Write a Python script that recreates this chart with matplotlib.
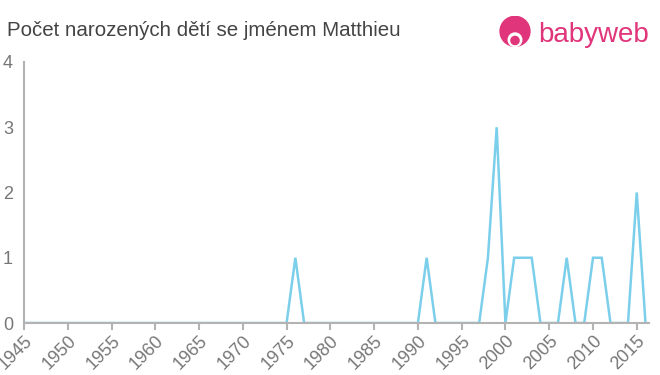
import matplotlib
matplotlib.use("Agg")
import matplotlib.pyplot as plt
from matplotlib.patches import Circle

plt.rcParams['font.family'] = ['Liberation Sans', 'DejaVu Sans']

years = list(range(1945, 2017))
nonzero = {1976: 1, 1991: 1, 1998: 1, 1999: 3, 2001: 1, 2002: 1, 2003: 1,
           2007: 1, 2010: 1, 2011: 1, 2015: 2}
counts = [nonzero.get(y, 0) for y in years]
xticks = list(range(1945, 2016, 5))
yticks = [0, 1, 2, 3, 4]
title = "Počet narozených dětí se jménem Matthieu"

fig = plt.figure(figsize=(6.6, 3.75), dpi=100)
ax = fig.add_axes([24/660, 1 - 323/375, (649-24)/660, (323-62)/375])
ax.plot(years, counts, color="#7ccfeb", lw=1.8, solid_joinstyle="miter")
ax.set_xlim(1945, 2016.4)
ax.set_ylim(0, 4)
ax.set_xticks(xticks)
ax.set_xticklabels([str(x) for x in xticks], rotation=45, ha="right",
                   rotation_mode="anchor", fontsize=13, color="#777777")
ax.set_yticks(yticks)
ax.set_yticklabels([str(y) for y in yticks], fontsize=13, color="#777777")
for s in ["top", "right"]:
    ax.spines[s].set_visible(False)
for s in ["left", "bottom"]:
    ax.spines[s].set_color("#b3b3b3")
    ax.spines[s].set_linewidth(1.5)
ax.tick_params(axis="x", length=5, color="#b3b3b3", width=1.5, pad=2)
ax.tick_params(axis="y", length=0, pad=8)

fig.text(7/660, 1 - 30/375, title, fontsize=14.8, color="#444444", va="center", ha="left")

# logo
pink = "#e0357a"
fig.text(538/660, 1 - 35/375, "babyweb", fontsize=20, color=pink, va="center", ha="left")
lax = fig.add_axes([498/660, 1 - 50/375, 34/660, 34/375])
lax.set_xlim(0, 1); lax.set_ylim(0, 1); lax.axis("off")
lax.add_patch(Circle((0.5, 0.55), 0.44, color=pink))
lax.add_patch(Circle((0.5, 0.3), 0.2, color="white"))
lax.add_patch(Circle((0.5, 0.28), 0.12, color=pink))

fig.savefig("out.png", dpi=100)
